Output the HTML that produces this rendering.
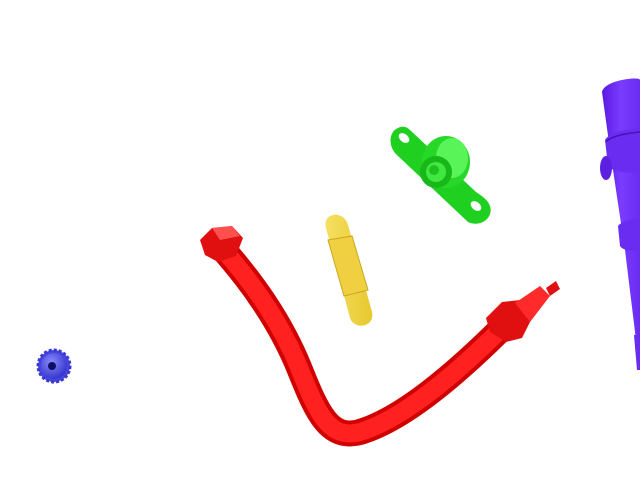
<!DOCTYPE html>
<html><head><meta charset="utf-8"><style>
html,body{margin:0;padding:0;background:#fff;width:640px;height:480px;overflow:hidden}
svg{display:block}
</style></head><body>
<svg width="640" height="480" viewBox="0 0 640 480">
  <defs>
    <radialGradient id="gb" cx="0.4" cy="0.35" r="0.7"><stop offset="0" stop-color="#8a8aff"/><stop offset="1" stop-color="#3030c8"/></radialGradient>
    <linearGradient id="gp" x1="0" x2="1"><stop offset="0" stop-color="#5a18e0"/><stop offset="0.5" stop-color="#7a3cff"/><stop offset="1" stop-color="#6a2cf0"/></linearGradient>
    <linearGradient id="gy" x1="0" x2="1"><stop offset="0" stop-color="#f5e060"/><stop offset="1" stop-color="#e8c830"/></linearGradient>
  </defs>

  <g>
    <circle cx="54" cy="366" r="16" fill="#4646e0" stroke="#3a3ad0" stroke-width="3" stroke-dasharray="3 2"/>
    <circle cx="54" cy="366" r="13" fill="url(#gb)"/>
    <circle cx="52" cy="366" r="4" fill="#101060"/>
  </g>

  <g>
    <path d="M222 248 C250 280 280 320 300 370 C318 415 330 440 360 432 C400 420 450 380 505 325" fill="none" stroke="#d00000" stroke-width="26" stroke-linecap="round"/>
    <path d="M222 248 C250 280 280 320 300 370 C318 415 330 440 360 432 C400 420 450 380 505 325" fill="none" stroke="#ff2020" stroke-width="18" stroke-linecap="round"/>
    <polygon points="200,240 212,228 232,226 243,238 236,256 218,262 205,255" fill="#e01010"/>
    <polygon points="212,228 232,226 240,236 220,240" fill="#ff5050"/>
    <polygon points="486,318 502,302 520,300 532,318 522,338 506,342 490,332" fill="#e01010"/>
    <polygon points="515,303 540,286 550,296 530,322" fill="#ff2a2a"/>
    <polygon points="546,288 556,281 560,289 550,296" fill="#e01010"/>
  </g>

  <g>
    <path d="M326 228 C322 212 344 210 348 225 L372 312 C375 328 354 330 350 318 Z" fill="url(#gy)"/>
    <path d="M328 240 L352 236 L368 290 L344 296 Z" fill="#f0d040" stroke="#c8a820" stroke-width="1"/>
  </g>

  <g>
    <path d="M398 128 C388 132 388 148 398 156 L468 222 C480 228 494 218 490 206 C488 200 482 196 476 192 L410 130 C406 126 402 126 398 128 Z" fill="#20d020"/>
    <ellipse cx="404" cy="138" rx="6" ry="4" transform="rotate(40 404 138)" fill="#fff"/>
    <ellipse cx="476" cy="206" rx="6" ry="4" transform="rotate(40 476 206)" fill="#fff"/>
    <ellipse cx="446" cy="162" rx="24" ry="26" fill="#28d828"/>
    <ellipse cx="452" cy="158" rx="16" ry="20" fill="#58f458"/>
    <ellipse cx="436" cy="172" rx="16" ry="16" fill="#18b818"/>
    <ellipse cx="436" cy="172" rx="10" ry="10" fill="#40e840"/>
    <ellipse cx="434" cy="170" rx="5" ry="5" fill="#20c020"/>
  </g>

  <g>
    <path d="M602 92 C604 80 640 76 640 80 L640 340 L636 340 L625 250 L610 150 Z" fill="url(#gp)"/>
    <path d="M605 140 C610 130 640 128 640 128 L640 172 C630 174 612 172 608 166 Z" fill="#6a2cf0"/>
    <path d="M606 142 C612 134 640 132 640 132" fill="none" stroke="#4a10b0" stroke-width="1.5"/>
    <ellipse cx="606" cy="168" rx="6" ry="12" fill="#5e20e0"/>
    <path d="M618 226 C622 220 640 218 640 218 L640 250 C632 252 622 250 620 246 Z" fill="#6a2cf0"/>
    <path d="M634 335 L640 335 L640 370 L637 370 Z" fill="#6a2cf0"/>
  </g>
</svg>
</body></html>
